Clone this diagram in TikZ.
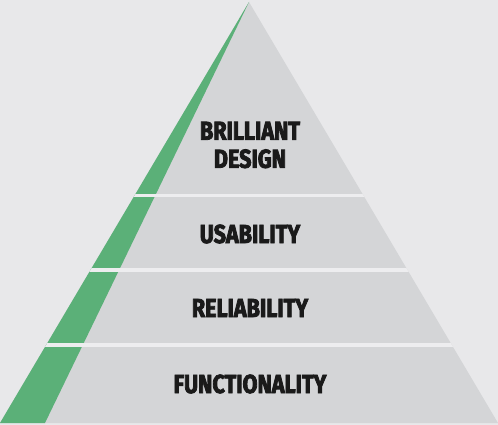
\documentclass[tikz,border=0pt]{standalone}
\usepackage{fontspec}
\newfontfamily\tierfont[FakeStretch=0.83,FakeBold=3]{Fira Sans}
\definecolor{bgcol}{HTML}{E8E8EA}
\definecolor{tiercol}{HTML}{D4D5D7}
\definecolor{gapcol}{HTML}{EDEDEF}
\definecolor{accent}{HTML}{5BB078}
\definecolor{inkcol}{HTML}{1A1A1A}
\begin{document}
\begin{tikzpicture}[x=1pt,y=-1pt,
  tierlabel/.style={font=\tierfont\bfseries\fontsize{26}{30}\selectfont, text=inkcol, align=center, inner sep=0pt},
  gapline/.style={draw=gapcol, line width=3.6pt}]
  % canvas
  \fill[bgcol] (0,0) rectangle (498,425);
  \useasboundingbox (0,0) rectangle (498,425);
  % pyramid body and green edge strip
  \coordinate (apex) at (249,2);
  \coordinate (bl) at (0,423);
  \coordinate (br) at (498,423);
  \coordinate (gb) at (45,423);
  \fill[tiercol] (apex) -- (bl) -- (br) -- cycle;
  \fill[accent] (apex) -- (bl) -- (gb) -- cycle;
  % separators between tiers, kept inside the pyramid
  \begin{scope}
    \clip (apex) -- (bl) -- (br) -- cycle;
    \draw[gapline] (0,195.5) -- (498,195.5);
    \draw[gapline] (0,270) -- (498,270);
    \draw[gapline] (0,345) -- (498,345);
  \end{scope}
  % tier labels
  \node[tierlabel] (top) at (250,145) {BRILLIANT\\[-2pt]DESIGN};
  \node[tierlabel] (use) at (250,234) {USABILITY};
  \node[tierlabel] (rel) at (250,308) {RELIABILITY};
  \node[tierlabel] (fun) at (250,384) {FUNCTIONALITY};
\end{tikzpicture}
\end{document}
